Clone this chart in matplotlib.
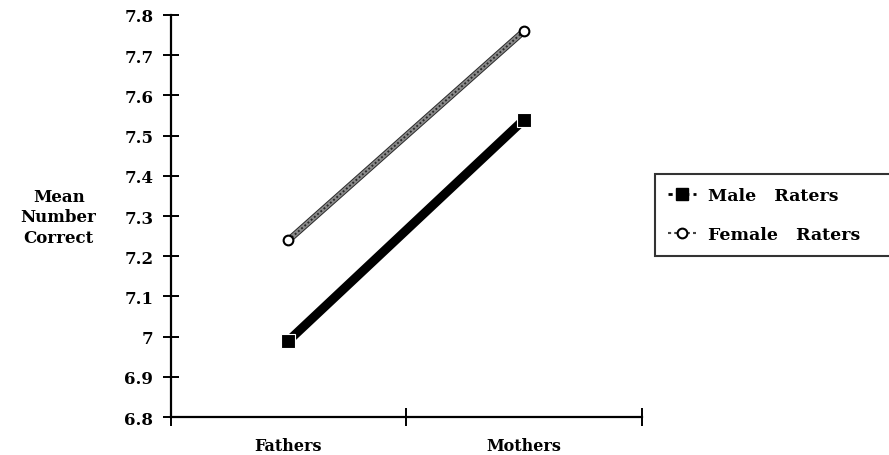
import matplotlib
matplotlib.use("Agg")
import matplotlib.pyplot as plt
import matplotlib.patheffects as pe
from matplotlib.lines import Line2D

categories = ["Fathers", "Mothers"]
male_raters = [6.99, 7.54]
female_raters = [7.24, 7.76]
yticks = [6.8, 6.9, 7.0, 7.1, 7.2, 7.3, 7.4, 7.5, 7.6, 7.7, 7.8]
ytick_labels = ["6.8", "6.9", "7", "7.1", "7.2", "7.3", "7.4", "7.5", "7.6", "7.7", "7.8"]
series_labels = ["Male   Raters", "Female   Raters"]

plt.rcParams['font.family'] = ['DejaVu Serif', 'Liberation Serif']
plt.rcParams['font.weight'] = 'bold'

fig = plt.figure(figsize=(8.89, 4.56), dpi=100)
ax = fig.add_axes([0.192, 0.083, 0.530, 0.882])

xpos = [i + 0.5 for i in range(len(categories))]

# Male raters: thick black line with square markers
ax.plot(xpos, male_raters, color='black', linewidth=6.5, solid_capstyle='butt', zorder=3)
ax.plot(xpos, male_raters, linestyle='none', marker='s', markersize=9.5,
        markerfacecolor='black', markeredgecolor='white', markeredgewidth=0.8, zorder=4)

# Female raters: textured grey line with open circle markers
ax.plot(xpos, female_raters, color='#8a8a8a', linewidth=3.4, solid_capstyle='butt',
        path_effects=[pe.Stroke(linewidth=4.8, foreground='#2a2a2a'), pe.Normal()], zorder=3)
ax.plot(xpos, female_raters, color='#2a2a2a', linewidth=1.4, linestyle=(0, (1, 1.2)),
        solid_capstyle='butt', zorder=3)
ax.plot(xpos, female_raters, linestyle='none', marker='o', markersize=7,
        markerfacecolor='white', markeredgecolor='black', markeredgewidth=1.5, zorder=4)

ax.set_xlim(0, 2)
ax.set_ylim(6.8, 7.8)
ax.spines['top'].set_visible(False)
ax.spines['right'].set_visible(False)
for s in ['left', 'bottom']:
    ax.spines[s].set_linewidth(1.6)

ax.set_yticks(yticks)
ax.set_yticklabels(ytick_labels, fontsize=12, fontweight='bold')
ax.tick_params(axis='y', direction='inout', length=11, width=1.4, pad=7)

ax.set_xticks([0, 1, 2])
ax.set_xticklabels(['', '', ''])
ax.set_xticks(xpos, minor=True)
ax.set_xticklabels(categories, minor=True, fontsize=11.5, fontweight='bold')
ax.tick_params(axis='x', which='major', direction='inout', length=13, width=1.4)
ax.tick_params(axis='x', which='minor', length=0, pad=14)

fig.text(0.066, 0.522, "Mean\nNumber\nCorrect", ha='center', va='center',
         fontsize=12, fontweight='bold', linespacing=1.25)

handles = [
    Line2D([0], [0], color='black', linewidth=2, marker='s', markersize=8,
           markerfacecolor='black', markeredgecolor='black', linestyle=(0, (1.5, 1.5))),
    Line2D([0], [0], color='#444444', linewidth=1.5, marker='o', markersize=7,
           markerfacecolor='white', markeredgecolor='black', markeredgewidth=1.5,
           linestyle=(0, (1.5, 1.5))),
]
leg = fig.legend(handles, series_labels, loc='upper left',
                 bbox_to_anchor=(0.737, 0.434, 0.30, 0.182), mode='expand',
                 frameon=True, fancybox=False, edgecolor='black',
                 fontsize=12.5, handlelength=1.6, handletextpad=0.7,
                 borderpad=0.75, labelspacing=1.27, borderaxespad=0)
leg.get_frame().set_linewidth(1.5)
for t in leg.get_texts():
    t.set_fontweight('bold')

fig.savefig("out.png", dpi=100)
